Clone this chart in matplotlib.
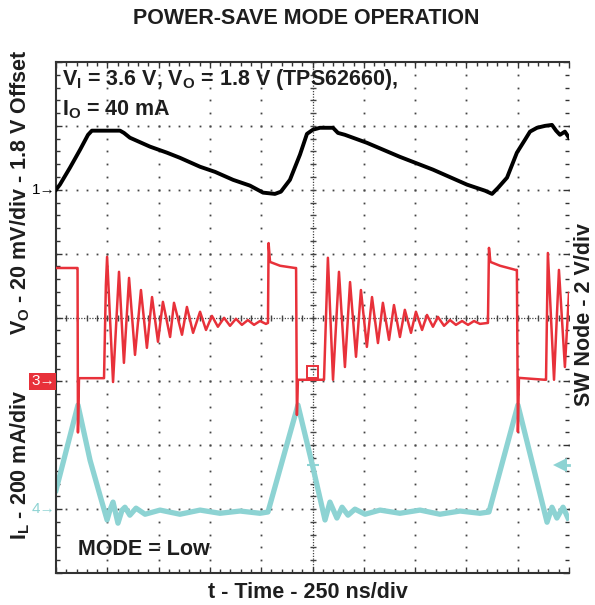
import matplotlib.pyplot as plt
import numpy as np
from matplotlib.patches import Rectangle
from matplotlib.ticker import MultipleLocator

plt.rcParams['font.family'] = ['Liberation Sans', 'DejaVu Sans']
plt.rcParams['font.weight'] = 'bold'
plt.rcParams['mathtext.fontset'] = 'custom'
plt.rcParams['mathtext.rm'] = 'Liberation Sans:bold'
plt.rcParams['mathtext.it'] = 'Liberation Sans:bold'
plt.rcParams['mathtext.bf'] = 'Liberation Sans:bold'

# ---- scope settings ----
NS_PER_DIV = 250
VO_MV_PER_DIV = 20
SW_V_PER_DIV = 2
IL_MA_PER_DIV = 200
# ground reference of each channel, in divisions from the bottom of the screen
VO_ZERO, SW_ZERO, IL_ZERO = 6, 3, 1

# ---- ch1: output ripple (mV around 1.8 V) ----
vo_t = [0, 19, 68, 117, 156, 175, 214, 263, 312, 331, 360, 458, 541, 604, 702,
        775, 863, 945, 1009, 1067, 1096, 1140, 1189, 1223, 1252, 1286, 1350,
        1374, 1408, 1515, 1676, 1837, 2003, 2091, 2125, 2154, 2198, 2246, 2285,
        2310, 2344, 2383, 2417, 2437, 2456, 2480, 2500]
vo_mv = [0, 1.6, 6.9, 12.5, 17.2, 18.5, 18.5, 18.5, 18.5, 17.8, 16.3, 13.5,
         11.6, 10.0, 7.2, 5.6, 3.1, 1.3, -0.9, -1.3, -0.6, 3.1, 11.0, 17.5,
         18.8, 19.4, 19.4, 17.8, 17.2, 14.7, 10.3, 6.3, 1.6, -0.3, -1.3, 0.6,
         3.8, 11.6, 15.6, 18.2, 19.4, 20.0, 20.3, 18.5, 17.2, 18.2, 16.3]

# ---- ch3: switch node (V) ----
sw_t = [0, 97, 105, 107, 112, 234,
        243, 249, 278, 307, 331, 356, 385, 414, 443, 468, 497, 521, 556, 575,
        614, 638, 668, 702, 731, 760, 789, 819, 848, 877, 906, 935, 965, 994,
        1023, 1033,
        1036, 1043, 1092, 1165, 1170, 1174, 1179, 1301,
        1306, 1325, 1350, 1379, 1408, 1433, 1462, 1486, 1515, 1540, 1569, 1593,
        1623, 1647, 1676, 1700, 1730, 1754, 1784, 1808, 1837, 1861, 1891, 1920,
        1949, 1979, 2008, 2037, 2066, 2105,
        2110, 2117, 2164, 2240, 2246, 2251, 2256, 2383,
        2388, 2397, 2427, 2451, 2480, 2500]
sw_v = [3.55, 3.55, 3.55, -1.6, 0.1, 0.1,
        3.0, 3.9, -0.02, 3.43, 0.58, 3.24, 0.83, 2.86, 1.05, 2.64, 1.24, 2.49, 1.39, 2.46,
        1.46, 2.33, 1.52, 2.18, 1.61, 2.05, 1.71, 1.99, 1.74, 1.96, 1.77, 1.92, 1.77, 1.89,
        1.80, 1.83,
        4.33, 3.74, 3.62, 3.55, 3.55, -1.05, 0.05, 0.05,
        0.05, 3.87, 0.05, 3.43, 0.45, 3.11, 0.77, 2.86, 1.08, 2.64, 1.20, 2.46,
        1.30, 2.39, 1.39, 2.24, 1.52, 2.18, 1.61, 2.08, 1.71, 2.02, 1.74, 1.92,
        1.77, 1.89, 1.77, 1.89, 1.80, 1.83,
        4.18, 3.74, 3.62, 3.49, 3.49, -1.58, 0.11, 0.05,
        0.05, 4.02, 0.05, 3.49, 0.45, 2.77]

# ---- ch4: inductor current (mA) ----
il_t = [0, 107, 166, 214, 249, 263, 278, 302, 322, 336, 360, 390, 434, 507, 604,
        702, 799, 897, 994, 1033, 1179, 1252, 1311, 1335, 1369, 1394, 1423, 1457,
        1506, 1579, 1676, 1774, 1871, 1969, 2066, 2110, 2251, 2393, 2417, 2441,
        2471, 2495]
il_ma = [59, 326, 153, 44, -34, -3, 22, -44, -3, 6, -19, 3, -16, -3, -16, -3,
         -13, -6, -13, -9, 326, 131, -34, 22, -28, 6, -19, 0, -16, -3, -13, -3,
         -16, -6, -13, -9, 326, -41, 6, -28, 6, -28]

RED = '#e8313a'
CYAN = '#8dd3d3'
GRID = '#444444'
INK = '#1e1e1e'
FS = 15.5

fig = plt.figure(figsize=(5.95, 6.05), dpi=100)
ax = fig.add_axes([56 / 595, 32 / 605, 513 / 595, 511 / 605])
ax.set_xlim(0, 10 * NS_PER_DIV)
ax.set_ylim(0, 8)

# graticule: dots every fifth of a division along each major line
xs_minor = np.arange(0, 10 * NS_PER_DIV + 1, NS_PER_DIV / 5)
ys_minor = np.arange(0, 8.01, 0.2)
for k in range(1, 10):
    if k == 5:
        continue
    ax.plot(np.full_like(ys_minor, k * NS_PER_DIV), ys_minor, ls='none',
            marker='s', ms=1.3, color=GRID, mew=0, zorder=1)
for m in range(1, 8):
    if m == 4:
        continue
    ax.plot(xs_minor, np.full_like(xs_minor, m), ls='none',
            marker='s', ms=1.3, color=GRID, mew=0, zorder=1)

# centre cross with tick marks
ax.axvline(5 * NS_PER_DIV, color=GRID, lw=0.9, ls=(0, (1, 1.2)), zorder=1)
ax.axhline(4, color=GRID, lw=0.9, ls=(0, (1, 1.2)), zorder=1)
ax.plot(np.full_like(ys_minor, 5 * NS_PER_DIV), ys_minor, ls='none',
        marker='_', ms=5, mew=1, color=GRID, zorder=1)
ax.plot(xs_minor, np.full_like(xs_minor, 4), ls='none',
        marker='|', ms=5, mew=1, color=GRID, zorder=1)

# traces, scaled onto the screen
il_y = IL_ZERO + np.array(il_ma) / IL_MA_PER_DIV
sw_y = SW_ZERO + np.array(sw_v) / SW_V_PER_DIV
vo_y = VO_ZERO + np.array(vo_mv) / VO_MV_PER_DIV
ax.plot(il_t, il_y, color=CYAN, lw=3.8, solid_joinstyle='round', zorder=2)
ax.plot(sw_t, sw_y, color=RED, lw=1.8, zorder=3)
ax.plot(vo_t, vo_y, color='black', lw=2.8, solid_joinstyle='round', zorder=4)

# trigger markers
ax.add_patch(Rectangle((1223, 3.05), 54, 0.19, fill=False, ec=RED, lw=1.4, zorder=3))
ax.plot([2456, 2500], [1.69, 1.69], color=CYAN, lw=2, zorder=5, clip_on=False)
ax.plot([2456], [1.69], marker='<', ms=10, mew=0, color=CYAN, zorder=5,
        clip_on=False)
ax.plot([1250], [1.69], marker='_', ms=9, mew=1.5, color=CYAN, zorder=5)

# channel ground markers
ax.text(-2, VO_ZERO, '1\u2192', ha='right', va='center', fontsize=11,
        fontweight='normal', color='black', clip_on=False)
ax.text(-6, SW_ZERO, '3\u2192', ha='right', va='center', fontsize=11,
        fontweight='normal', color='white', clip_on=False,
        bbox=dict(boxstyle='square,pad=0.1', fc=RED, ec='none'))
ax.text(-2, IL_ZERO, '4\u2192', ha='right', va='center', fontsize=11,
        fontweight='normal', color=CYAN, clip_on=False)

# frame
for side in ('left', 'top', 'bottom'):
    ax.spines[side].set_color('#333333')
    ax.spines[side].set_linewidth(1.5)
ax.spines['right'].set_visible(False)
ax.xaxis.set_major_locator(MultipleLocator(NS_PER_DIV))
ax.xaxis.set_minor_locator(MultipleLocator(NS_PER_DIV / 5))
ax.yaxis.set_major_locator(MultipleLocator(1))
ax.yaxis.set_minor_locator(MultipleLocator(0.2))
ax.tick_params(which='both', direction='in', top=True, right=True,
               labelleft=False, labelbottom=False, color='#333333', width=1)
ax.tick_params(which='major', length=4)
ax.tick_params(which='minor', length=3)

# annotations inside the screen
ax.text(29, 7.64, r'V$_\mathrm{I}$ = 3.6 V, V$_\mathrm{O}$ = 1.8 V (TPS62660),',
        fontsize=FS, va='baseline', ha='left', color=INK, zorder=6)
ax.text(29, 7.17, r'I$_\mathrm{O}$ = 40 mA', fontsize=FS, va='baseline',
        ha='left', color=INK, zorder=6)
ax.text(107, 0.28, 'MODE = Low', fontsize=FS, va='baseline', ha='left',
        color=INK, zorder=6)

# titles and axis captions
fig.text(306 / 595, 1 - 18 / 605, 'POWER-SAVE MODE OPERATION', fontsize=FS,
         ha='center', va='center', color=INK)
fig.text(20 / 595, 1 - 192 / 605, r'V$_\mathrm{O}$ - 20 mV/div - 1.8 V Offset',
         rotation=90, fontsize=FS, ha='center', va='center', color=INK)
fig.text(20 / 595, 1 - 465 / 605, r'I$_\mathrm{L}$ - 200 mA/div',
         rotation=90, fontsize=FS, ha='center', va='center', color=INK)
fig.text(585 / 595, 1 - 314 / 605, 'SW Node - 2 V/div', rotation=90,
         fontsize=FS, ha='center', va='center', color=INK)
fig.text(308 / 595, 1 - 592 / 605, 't - Time - 250 ns/div', fontsize=FS,
         ha='center', va='center', color=INK)

fig.savefig('out.png', dpi=100)
